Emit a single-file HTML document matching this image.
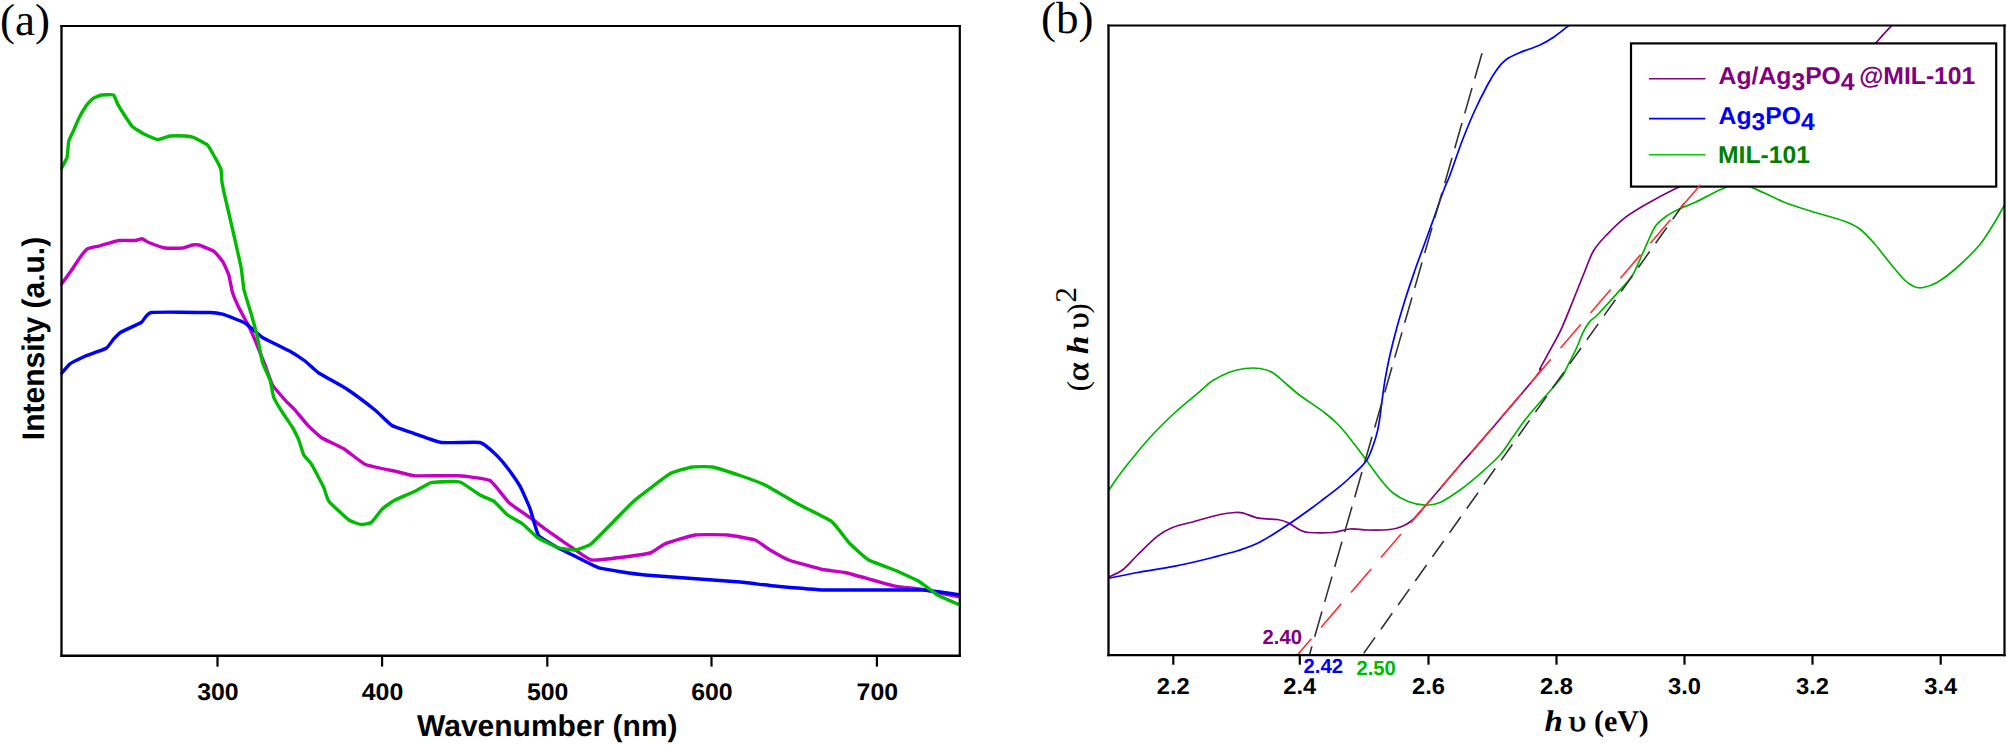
<!DOCTYPE html>
<html lang="en">
<head>
<meta charset="utf-8">
<title>UV-Vis DRS and Tauc plot</title>
<style>
html,body{margin:0;padding:0;background:#fff;}
body{width:2007px;height:745px;overflow:hidden;}
svg{display:block;text-rendering:geometricPrecision;}
.sans{font-family:"Liberation Sans",sans-serif;font-weight:bold;}
.serif{font-family:"Liberation Serif",serif;}
.ax{stroke:#000;fill:none;}
.ca{fill:none;stroke-width:3.4;stroke-linejoin:round;stroke-linecap:butt;}
.cb{fill:none;stroke-width:1.7;stroke-linejoin:round;}
.dash{fill:none;stroke-width:1.6;}
</style>
</head>
<body>
<svg width="2007" height="745" viewBox="0 0 2007 745">
<rect x="0" y="0" width="2007" height="745" fill="#fff"/>
<g id="chart-a">
<clipPath id="clipA"><rect x="60.3" y="26" width="900.3" height="629.5"/></clipPath>
<g clip-path="url(#clipA)">
<path class="ca" stroke="#c400c4" d="M60.5 285.5 C61.2 284.5 69.7 272.9 71.0 271.0 C72.3 269.1 78.9 259.0 80.0 257.5 C81.1 256.0 86.2 249.5 87.5 248.8 C88.8 248.0 97.9 246.3 100.0 245.8 C102.1 245.2 116.4 240.8 118.8 240.5 C121.1 240.2 133.4 240.6 135.0 240.5 C136.6 240.4 141.1 238.6 142.0 238.8 C142.9 238.9 147.2 241.9 148.8 242.5 C150.3 243.1 162.8 247.6 165.0 248.0 C167.2 248.4 180.7 248.2 182.5 248.0 C184.3 247.8 191.4 245.2 192.5 245.0 C193.6 244.8 197.3 244.6 198.8 245.0 C200.2 245.4 212.2 250.2 213.8 251.2 C215.3 252.3 221.5 259.7 222.5 261.2 C223.5 262.8 228.1 272.9 228.8 275.0 C229.4 277.1 231.8 290.3 232.5 292.5 C233.2 294.7 237.8 305.4 238.8 307.5 C239.8 309.6 246.4 321.6 247.5 323.8 C248.6 325.9 253.8 337.2 255.0 340.0 C256.2 342.8 263.8 362.0 265.0 365.0 C266.2 368.0 271.2 382.7 272.5 385.0 C273.8 387.3 283.5 398.3 285.0 400.0 C286.5 401.7 293.5 408.3 295.0 410.0 C296.5 411.7 305.8 423.2 307.5 425.0 C309.2 426.8 318.8 435.9 321.2 437.5 C323.7 439.1 340.8 447.0 343.8 448.8 C346.7 450.5 361.6 462.8 365.0 464.2 C368.4 465.8 391.7 470.5 395.0 471.2 C398.3 472.0 410.8 475.4 415.0 475.8 C419.2 476.1 453.8 475.4 458.8 475.8 C463.8 476.1 486.7 478.7 490.0 480.5 C493.3 482.3 506.1 500.0 508.8 502.5 C511.4 505.0 527.6 515.8 530.0 517.5 C532.4 519.2 542.3 526.8 545.0 528.8 C547.7 530.7 566.9 544.2 570.0 546.2 C573.1 548.3 587.9 559.2 591.2 560.0 C594.6 560.8 616.1 558.0 620.0 557.5 C623.9 557.0 647.0 553.9 650.0 553.0 C653.0 552.1 662.0 545.0 665.0 543.8 C668.0 542.5 690.8 535.6 695.0 535.0 C699.2 534.4 723.5 534.7 727.5 535.0 C731.5 535.3 752.2 539.0 755.0 540.0 C757.8 541.0 767.8 548.7 770.0 550.0 C772.2 551.3 785.2 558.7 788.8 560.0 C792.2 561.3 818.8 568.7 822.5 569.5 C826.2 570.3 841.7 571.8 845.0 572.5 C848.3 573.2 869.2 579.1 872.5 580.0 C875.8 580.9 891.7 585.6 895.0 586.2 C898.3 586.9 918.2 588.8 922.5 589.5 C926.8 590.2 957.5 596.5 960.0 597.0"/>
<path class="ca" stroke="#0000ff" d="M60.5 374.5 C61.1 373.8 68.4 365.0 70.0 363.8 C71.6 362.5 82.6 357.3 85.0 356.2 C87.4 355.2 104.3 349.4 106.2 348.2 C108.2 347.1 112.8 339.8 113.8 338.8 C114.8 337.7 119.4 333.1 121.2 332.0 C123.1 330.9 139.2 323.8 141.2 322.5 C143.2 321.2 146.7 313.2 151.2 312.5 C155.8 311.8 205.2 312.4 210.0 312.5 C214.8 312.6 220.2 313.6 222.5 314.2 C224.8 314.9 242.3 321.4 245.0 323.0 C247.7 324.6 259.5 335.6 262.5 337.5 C265.5 339.4 287.2 349.7 290.0 351.2 C292.8 352.8 303.1 359.6 305.0 361.0 C306.9 362.4 315.9 371.1 318.8 373.0 C321.6 374.9 343.8 387.0 347.5 389.5 C351.2 392.0 372.0 407.6 375.0 410.0 C378.0 412.4 389.3 423.9 392.0 425.5 C394.7 427.1 411.7 432.6 415.0 433.8 C418.3 434.9 436.9 441.9 441.2 442.5 C445.6 443.1 476.4 441.8 480.0 442.5 C483.6 443.2 493.2 452.1 495.0 453.8 C496.8 455.4 505.8 465.8 507.5 468.0 C509.2 470.2 518.5 483.6 520.0 486.2 C521.5 488.9 528.8 505.2 530.0 508.5 C531.2 511.8 536.7 532.9 538.5 535.5 C540.3 538.1 554.9 546.0 557.5 547.5 C560.1 549.0 574.7 556.1 577.5 557.5 C580.3 558.9 595.5 567.1 600.0 568.2 C604.5 569.4 635.7 574.1 645.0 575.0 C654.3 575.9 731.7 581.3 740.0 582.0 C748.3 582.7 764.3 585.0 770.0 585.5 C775.7 586.0 814.8 589.7 825.0 590.0 C835.2 590.3 913.5 589.7 922.5 590.0 C931.5 590.3 957.5 594.7 960.0 595.0"/>
<path class="ca" stroke="#00bc00" d="M60.5 170.0 C60.9 169.2 66.5 159.4 67.0 157.5 C67.5 155.6 68.3 142.8 68.8 141.0 C69.2 139.2 73.0 131.7 73.8 130.0 C74.5 128.3 79.2 117.6 80.0 116.0 C80.8 114.4 85.2 107.2 86.0 106.0 C86.8 104.8 91.5 99.5 92.5 98.8 C93.5 98.0 100.1 95.2 101.5 95.0 C102.9 94.8 112.4 94.4 113.5 95.0 C114.6 95.6 116.7 102.3 117.5 103.8 C118.3 105.2 124.0 114.5 125.0 116.0 C126.0 117.5 131.2 125.5 132.5 126.8 C133.8 128.0 143.3 133.7 145.0 134.5 C146.7 135.3 155.8 139.4 157.5 139.5 C159.2 139.6 168.2 136.2 170.0 136.0 C171.8 135.8 183.4 135.9 185.0 136.0 C186.6 136.1 192.2 136.9 193.8 137.5 C195.2 138.1 206.1 143.7 207.5 145.0 C208.9 146.3 214.1 155.9 215.0 157.5 C215.9 159.1 220.5 167.8 221.0 169.5 C221.5 171.2 221.6 180.0 222.0 182.5 C222.4 185.0 226.6 203.7 227.5 207.5 C228.4 211.3 234.1 236.0 235.0 240.0 C235.9 244.0 240.6 264.7 241.2 268.0 C241.8 271.3 243.3 286.9 244.0 290.0 C244.7 293.1 250.6 311.8 251.5 315.0 C252.4 318.2 256.8 334.3 257.5 337.5 C258.2 340.7 261.7 359.7 262.5 362.5 C263.3 365.3 269.2 377.7 270.0 380.0 C270.8 382.3 272.9 395.3 273.8 397.5 C274.6 399.7 281.2 410.5 282.5 412.5 C283.8 414.5 291.4 425.7 292.5 427.5 C293.6 429.3 298.0 438.2 298.8 440.0 C299.5 441.8 302.9 453.4 303.8 455.0 C304.6 456.6 309.9 461.6 311.2 463.8 C312.6 465.9 322.6 485.0 323.8 487.5 C324.9 490.0 327.1 499.1 328.8 501.2 C330.4 503.4 346.6 518.5 348.8 520.0 C350.9 521.5 359.8 524.3 361.2 524.5 C362.8 524.7 369.8 523.5 371.2 522.5 C372.7 521.5 380.9 510.2 382.5 508.8 C384.1 507.2 392.8 501.2 395.0 500.0 C397.2 498.8 412.7 492.4 415.0 491.2 C417.3 490.1 428.5 483.6 430.0 483.0 C431.5 482.4 435.5 482.1 437.5 482.0 C439.5 481.9 457.2 481.1 460.0 482.0 C462.8 482.9 477.8 493.7 480.0 495.0 C482.2 496.3 491.9 499.9 493.8 501.2 C495.6 502.6 505.6 513.5 507.5 515.0 C509.4 516.5 520.5 522.2 522.5 523.8 C524.5 525.2 535.2 535.9 537.5 537.5 C539.8 539.1 555.0 546.7 557.5 547.5 C560.0 548.3 572.8 550.2 575.0 550.0 C577.2 549.8 588.6 545.8 591.2 543.8 C593.9 541.8 612.1 522.9 615.0 520.0 C617.9 517.1 631.3 503.1 635.0 500.0 C638.7 496.9 666.2 475.9 670.0 473.8 C673.8 471.6 689.7 467.4 692.5 467.0 C695.3 466.6 709.3 466.4 712.5 467.0 C715.7 467.6 736.5 474.3 740.0 475.5 C743.5 476.7 761.2 483.1 765.0 485.0 C768.8 486.9 793.1 501.3 797.5 503.8 C801.9 506.2 827.8 518.6 831.2 521.2 C834.8 523.9 847.5 541.2 850.0 543.8 C852.5 546.3 865.6 558.2 868.8 560.0 C871.9 561.8 894.2 569.8 897.5 571.2 C900.8 572.7 916.1 579.7 918.8 581.2 C921.4 582.8 934.8 593.4 937.5 595.0 C940.2 596.6 958.5 604.3 960.0 605.0"/>
</g>
<path class="ax" stroke-width="2.3" d="M61.5 25.1 V656.9"/>
<path class="ax" stroke-width="2.3" d="M60.35 655.75 H960.9"/>
<path class="ax" stroke-width="1.8" d="M60.35 26 H960.9"/>
<path class="ax" stroke-width="2.2" d="M959.8 25.1 V656.9"/>
<path class="ax" stroke-width="2.2" d="M217.5 655.75 V666.6"/>
<text class="sans" transform="translate(217.9,700.0) scale(1.035,1)" font-size="24" text-anchor="middle">300</text>
<path class="ax" stroke-width="2.2" d="M382.1 655.75 V666.6"/>
<text class="sans" transform="translate(382.5,700.0) scale(1.035,1)" font-size="24" text-anchor="middle">400</text>
<path class="ax" stroke-width="2.2" d="M547.3 655.75 V666.6"/>
<text class="sans" transform="translate(547.6999999999999,700.0) scale(1.035,1)" font-size="24" text-anchor="middle">500</text>
<path class="ax" stroke-width="2.2" d="M711.5 655.75 V666.6"/>
<text class="sans" transform="translate(711.9,700.0) scale(1.035,1)" font-size="24" text-anchor="middle">600</text>
<path class="ax" stroke-width="2.2" d="M876.9 655.75 V666.6"/>
<text class="sans" transform="translate(877.3,700.0) scale(1.035,1)" font-size="24" text-anchor="middle">700</text>
<text class="sans" x="547.3" y="736.2" font-size="30" text-anchor="middle">Wavenumber (nm)</text>
<text class="sans" transform="translate(44.4,338.5) rotate(-90) scale(1,1.04)" font-size="30" text-anchor="middle">Intensity (a.u.)</text>
<text class="serif" x="0" y="35" font-size="45">(a)</text>
</g>
<g id="chart-b">
<clipPath id="clipB"><rect x="1107.3" y="25.5" width="897.6" height="629"/></clipPath>
<g clip-path="url(#clipB)">
<path class="cb" stroke="#800080" d="M1108.8 577.0 C1111.0 575.8 1117.7 573.7 1122.5 570.0 C1127.3 566.3 1131.7 560.6 1137.5 555.0 C1143.3 549.4 1151.7 540.8 1157.5 536.2 C1163.3 531.7 1166.2 530.0 1172.5 527.5 C1178.8 525.0 1187.1 523.4 1195.0 521.2 C1202.9 519.1 1213.3 516.0 1220.0 514.5 C1226.7 513.0 1231.0 512.7 1235.0 512.5 C1239.0 512.3 1239.8 512.3 1243.8 513.2 C1247.7 514.2 1253.1 517.2 1258.8 518.2 C1264.4 519.3 1272.7 518.8 1277.5 519.5 C1282.3 520.2 1283.8 520.8 1287.5 522.5 C1291.2 524.2 1296.5 528.3 1300.0 530.0 C1303.5 531.7 1303.3 532.1 1308.8 532.5 C1314.2 532.9 1325.6 533.1 1332.5 532.5 C1339.4 531.9 1344.2 529.4 1350.0 529.0 C1355.8 528.6 1360.8 529.9 1367.5 530.0 C1374.2 530.1 1384.2 530.1 1390.0 529.5 C1395.8 528.9 1398.8 527.8 1402.5 526.2 C1406.2 524.7 1408.8 523.3 1412.5 520.0 C1416.2 516.7 1420.4 511.5 1425.0 506.2 C1429.6 501.0 1434.2 495.6 1440.0 488.8 C1445.8 481.9 1453.3 472.7 1460.0 465.0 C1466.7 457.3 1467.3 457.3 1480.0 442.5 C1492.7 427.7 1526.2 388.6 1536.2 376.2 C1546.2 363.9 1538.0 372.4 1540.0 368.7 C1542.0 365.0 1544.5 360.4 1548.0 353.9 C1551.5 347.4 1556.8 338.6 1561.0 329.7 C1565.2 320.8 1569.4 309.6 1573.2 300.2 C1577.0 290.8 1580.6 281.6 1584.0 273.3 C1587.4 265.0 1589.8 257.0 1593.7 250.5 C1597.6 244.0 1601.8 239.9 1607.2 234.3 C1612.6 228.7 1619.3 222.1 1626.0 216.9 C1632.7 211.8 1639.5 208.0 1647.5 203.4 C1655.5 198.8 1662.2 195.1 1674.3 189.2 C1686.4 183.3 1699.0 178.7 1720.0 168.0 C1741.0 157.3 1778.3 140.5 1800.0 125.0 C1821.7 109.5 1837.2 88.8 1850.0 75.0 C1862.8 61.2 1869.5 50.5 1876.5 42.2 C1883.5 34.0 1889.2 28.3 1891.8 25.5"/>
<path class="cb" stroke="#00b400" d="M1108.8 490.0 C1111.5 486.2 1118.1 476.2 1125.0 467.5 C1131.9 458.8 1141.7 446.7 1150.0 437.5 C1158.3 428.3 1166.7 420.2 1175.0 412.5 C1183.3 404.8 1193.8 396.6 1200.0 391.3 C1206.2 386.0 1207.5 384.0 1212.5 380.8 C1217.5 377.6 1224.6 374.1 1230.0 372.0 C1235.4 369.9 1240.0 369.1 1245.0 368.5 C1250.0 367.9 1255.4 367.8 1260.0 368.5 C1264.6 369.2 1267.9 369.8 1272.5 372.5 C1277.1 375.2 1282.9 381.2 1287.5 385.0 C1292.1 388.8 1293.8 390.8 1300.0 395.5 C1306.2 400.2 1318.3 407.8 1325.0 413.0 C1331.7 418.2 1335.0 421.2 1340.0 426.5 C1345.0 431.8 1350.6 439.4 1355.0 445.0 C1359.4 450.6 1362.1 454.4 1366.2 460.0 C1370.4 465.6 1375.6 473.3 1380.0 478.8 C1384.4 484.2 1387.9 488.8 1392.5 492.5 C1397.1 496.2 1402.1 499.1 1407.5 501.2 C1412.9 503.4 1419.6 505.0 1425.0 505.2 C1430.4 505.4 1434.2 505.0 1440.0 502.5 C1445.8 500.0 1453.3 494.8 1460.0 490.0 C1466.7 485.2 1473.3 479.6 1480.0 473.8 C1486.7 467.9 1494.6 461.0 1500.0 455.0 C1505.4 449.0 1508.3 443.3 1512.5 437.5 C1516.7 431.7 1520.8 425.4 1525.0 420.0 C1529.2 414.6 1533.3 409.8 1537.5 405.0 C1541.7 400.2 1545.8 395.8 1550.0 391.0 C1554.2 386.2 1559.7 379.9 1562.5 376.0 C1565.3 372.1 1564.6 371.9 1566.9 367.3 C1569.2 362.7 1573.6 354.3 1576.3 348.5 C1579.0 342.7 1580.8 336.9 1583.0 332.4 C1585.2 327.9 1587.2 324.6 1589.7 321.6 C1592.2 318.6 1592.7 319.9 1597.8 314.5 C1602.9 309.1 1614.8 296.0 1620.6 289.4 C1626.4 282.8 1629.1 280.8 1632.7 275.0 C1636.3 269.2 1639.6 259.9 1642.1 254.5 C1644.6 249.1 1645.3 247.2 1647.5 242.4 C1649.7 237.7 1652.4 230.3 1655.5 226.0 C1658.6 221.7 1662.3 219.2 1666.3 216.3 C1670.3 213.4 1674.8 211.2 1679.7 208.8 C1684.6 206.4 1689.1 205.3 1695.8 202.1 C1702.5 198.9 1713.0 192.9 1720.0 189.8 C1727.0 186.7 1732.6 183.9 1738.0 183.5 C1743.4 183.1 1745.2 184.6 1752.5 187.6 C1759.8 190.6 1772.9 197.5 1782.0 201.2 C1791.1 205.0 1796.6 206.7 1807.0 210.0 C1817.4 213.3 1835.8 218.1 1844.5 221.2 C1853.2 224.4 1854.5 225.0 1859.5 228.8 C1864.5 232.5 1869.5 238.1 1874.5 243.8 C1879.5 249.4 1884.5 256.5 1889.5 262.5 C1894.5 268.5 1900.3 276.0 1904.5 280.0 C1908.7 284.0 1911.4 285.5 1914.5 286.8 C1917.6 288.0 1919.5 288.2 1923.2 287.5 C1927.0 286.8 1931.4 285.8 1937.0 282.5 C1942.6 279.2 1949.9 273.8 1957.0 267.5 C1964.1 261.2 1973.2 252.5 1979.5 245.0 C1985.8 237.5 1990.3 229.2 1994.5 222.5 C1998.7 215.8 2002.8 207.9 2004.5 205.0"/>
<path class="cb" stroke="#0000ff" d="M1108.8 578.2 C1113.5 577.3 1126.5 574.5 1137.5 572.5 C1148.5 570.5 1162.5 568.8 1175.0 566.2 C1187.5 563.8 1202.1 560.1 1212.5 557.5 C1222.9 554.9 1229.6 553.3 1237.5 550.8 C1245.4 548.2 1251.7 546.3 1260.0 542.0 C1268.3 537.7 1278.8 530.8 1287.5 525.0 C1296.2 519.2 1306.2 512.0 1312.5 507.5 C1318.8 503.0 1320.9 501.1 1325.0 498.0 C1329.1 494.9 1333.0 492.1 1337.2 488.7 C1341.4 485.3 1345.2 482.1 1350.0 477.5 C1354.8 472.9 1362.2 466.6 1366.2 461.0 C1370.2 455.4 1371.8 448.8 1373.7 443.8 C1375.6 438.8 1376.4 435.5 1377.5 430.9 C1378.6 426.2 1379.3 421.3 1380.1 415.9 C1380.9 410.5 1381.4 405.1 1382.3 398.7 C1383.2 392.2 1384.2 384.3 1385.5 377.2 C1386.8 370.1 1388.0 363.7 1389.8 355.8 C1391.6 347.9 1393.7 339.3 1396.2 330.0 C1398.7 320.7 1401.9 310.0 1405.0 300.0 C1408.1 290.0 1411.7 279.6 1415.0 270.0 C1418.3 260.4 1421.7 251.7 1425.0 242.5 C1428.3 233.3 1431.9 223.8 1435.0 215.0 C1438.1 206.2 1441.2 196.7 1443.8 190.0 C1446.2 183.3 1446.9 183.3 1450.0 175.0 C1453.1 166.7 1458.3 150.8 1462.5 140.0 C1466.7 129.2 1470.8 119.2 1475.0 110.0 C1479.2 100.8 1483.8 91.9 1487.5 85.0 C1491.2 78.1 1494.4 73.0 1497.5 68.8 C1500.6 64.5 1502.5 62.2 1506.2 59.5 C1510.0 56.8 1514.4 54.9 1520.0 52.5 C1525.6 50.1 1534.2 47.7 1540.0 45.0 C1545.8 42.3 1550.2 39.5 1555.0 36.2 C1559.8 33.0 1566.5 27.3 1568.8 25.5"/>
<path class="dash" stroke="#333" stroke-dasharray="26.3 10" d="M1482.0 53.2 L1309.6 654.5"/>
<path class="dash" stroke="#333" stroke-dasharray="19.5 10.1" stroke-dashoffset="28.1" d="M1362.9 654.5 L1684.6 202.5"/>
</g>
<rect x="1631" y="43.4" width="365.2" height="143.2" fill="#fff" stroke="#000" stroke-width="2.2"/>
<g clip-path="url(#clipB)">
<path class="dash" stroke="#ff3030" stroke-dasharray="31 15" stroke-dashoffset="10.3" d="M1297.8 654.5 L1700.7 184.5"/>
</g>
<path stroke="#800080" stroke-width="1.6" d="M1649 78.7 H1705.3"/>
<path stroke="#0000ff" stroke-width="1.6" d="M1649 118.6 H1705.3"/>
<path stroke="#00c800" stroke-width="1.6" d="M1649 154.8 H1705.3"/>
<text class="sans" transform="translate(1718.6,84) scale(1.022,1)" font-size="24.2" fill="#800080">Ag/Ag<tspan dy="6">3</tspan><tspan dy="-6">PO</tspan><tspan dy="6">4</tspan><tspan dy="-6" dx="-2.2"> @MIL-101</tspan></text>
<text class="sans" transform="translate(1718.6,124) scale(1.022,1)" font-size="24.2" fill="#0000ff">Ag<tspan dy="6">3</tspan><tspan dy="-6">PO</tspan><tspan dy="6">4</tspan></text>
<text class="sans" transform="translate(1718,163) scale(1.022,1)" font-size="24.2" fill="#008000">MIL-101</text>
<path class="ax" stroke-width="2.3" d="M1108.5 24.6 V656.2"/>
<path class="ax" stroke-width="2.3" d="M1107.35 655.05 H2005.6"/>
<path class="ax" stroke-width="1.8" d="M1107.35 25.5 H2005.6"/>
<path class="ax" stroke-width="2.2" d="M2004.5 24.6 V656.2"/>
<path class="ax" stroke-width="2.2" d="M1173.3 655 V664.7"/>
<text class="sans" transform="translate(1173.3,694.1) scale(1.03,1)" font-size="23" text-anchor="middle">2.2</text>
<path class="ax" stroke-width="2.2" d="M1299.8 655 V664.7"/>
<text class="sans" transform="translate(1299.8,694.1) scale(1.03,1)" font-size="23" text-anchor="middle">2.4</text>
<path class="ax" stroke-width="2.2" d="M1428.5 655 V664.7"/>
<text class="sans" transform="translate(1428.5,694.1) scale(1.03,1)" font-size="23" text-anchor="middle">2.6</text>
<path class="ax" stroke-width="2.2" d="M1556.5 655 V664.7"/>
<text class="sans" transform="translate(1556.5,694.1) scale(1.03,1)" font-size="23" text-anchor="middle">2.8</text>
<path class="ax" stroke-width="2.2" d="M1684.5 655 V664.7"/>
<text class="sans" transform="translate(1684.5,694.1) scale(1.03,1)" font-size="23" text-anchor="middle">3.0</text>
<path class="ax" stroke-width="2.2" d="M1812.5 655 V664.7"/>
<text class="sans" transform="translate(1812.5,694.1) scale(1.03,1)" font-size="23" text-anchor="middle">3.2</text>
<path class="ax" stroke-width="2.2" d="M1940.7 655 V664.7"/>
<text class="sans" transform="translate(1940.7,694.1) scale(1.03,1)" font-size="23" text-anchor="middle">3.4</text>
<text class="sans" x="1262.6" y="644.4" font-size="20.3" fill="#800080">2.40</text>
<text class="sans" x="1303.6" y="673.2" font-size="20.3" fill="#0000ff">2.42</text>
<text class="sans" x="1356.4" y="675.2" font-size="20.3" fill="#00b800">2.50</text>
<text class="serif" y="730.6" font-size="30"><tspan x="1544.6" font-style="italic" font-weight="bold" textLength="18.35" lengthAdjust="spacingAndGlyphs">h</tspan> <tspan x="1568.4" textLength="17.82" lengthAdjust="spacingAndGlyphs" stroke="#000" stroke-width="0.55">υ</tspan> <tspan x="1593.9" font-weight="bold">(eV)</tspan></text>
<text class="serif" transform="translate(1087.5,391.3) rotate(-90)" font-size="30.5"><tspan x="0">(</tspan><tspan x="10.1" textLength="19.02" lengthAdjust="spacingAndGlyphs" stroke="#000" stroke-width="0.55">α</tspan> <tspan x="37.1" font-style="italic" font-weight="bold" textLength="18.65" lengthAdjust="spacingAndGlyphs">h</tspan> <tspan x="62.2" textLength="16.46" lengthAdjust="spacingAndGlyphs" stroke="#000" stroke-width="0.55">υ</tspan><tspan x="77.9">)</tspan><tspan x="88.5" dy="-12" font-size="30" textLength="15.75" lengthAdjust="spacingAndGlyphs">2</tspan></text>
<text class="serif" x="1041" y="32.6" font-size="45">(b)</text>
</g>
</svg>
</body>
</html>
